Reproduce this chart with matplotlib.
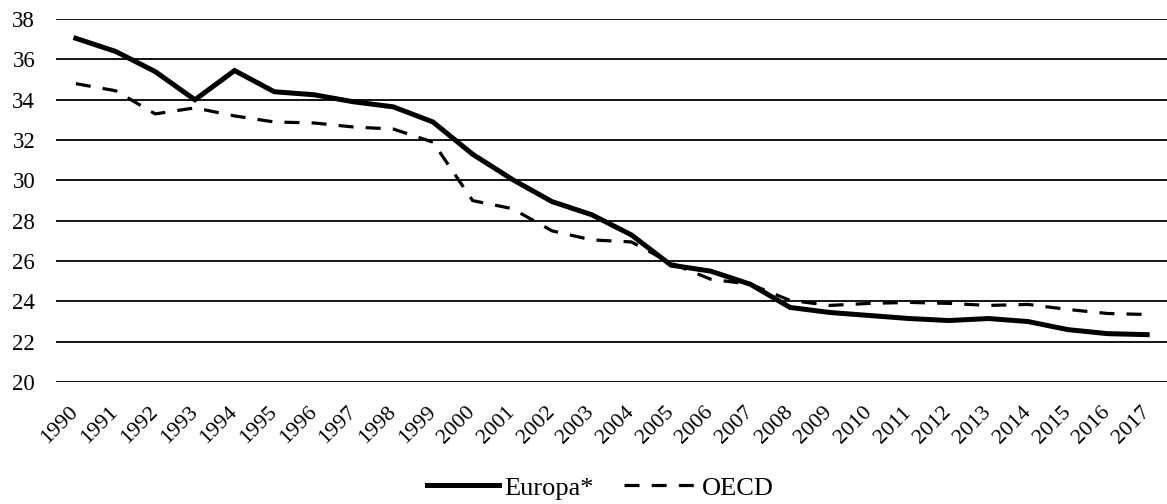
import matplotlib.pyplot as plt

plt.rcParams["font.family"] = ["Liberation Serif", "DejaVu Serif"]

years = [str(y) for y in range(1990, 2018)]

europa = [37.05, 36.4, 35.4, 34.0, 35.45, 34.4, 34.25, 33.9, 33.65, 32.9,
          31.3, 30.05, 28.95, 28.3, 27.3, 25.8, 25.5, 24.85, 23.7, 23.45,
          23.3, 23.15, 23.05, 23.15, 23.0, 22.6, 22.4, 22.35]

oecd = [34.8, 34.45, 33.3, 33.6, 33.2, 32.9, 32.85, 32.65, 32.55, 31.9,
        29.0, 28.6, 27.5, 27.05, 26.95, 25.9, 25.1, 24.85, 24.05, 23.8,
        23.9, 23.95, 23.9, 23.8, 23.85, 23.6, 23.4, 23.35]

y_ticks = list(range(20, 40, 2))

fig = plt.figure(figsize=(11.67, 5.04), dpi=100)
ax = fig.add_axes([0.048, 0.242, 0.952, 0.720])

x = list(range(len(years)))

ax.plot(x, europa, color="black", linewidth=3.6, label="Europa*",
        solid_joinstyle="miter", zorder=3)
ax.plot(x, oecd, color="black", linewidth=2.3, linestyle=(0, (4.7, 3.8)),
        label="OECD", zorder=3)

ax.set_xlim(-0.5, len(years) - 0.5)
ax.set_ylim(20, 38)
ax.set_yticks(y_ticks)
ax.yaxis.grid(True, color="black", linewidth=1.3)
ax.set_axisbelow(True)

ax.set_xticks(x)
ax.set_xticklabels(years, rotation=45, ha="right", va="center",
                   rotation_mode="anchor", fontsize=16)
ax.tick_params(axis="y", labelsize=16.5, length=0, pad=15)
ax.tick_params(axis="x", length=0, pad=20)

for side in ["top", "right", "left", "bottom"]:
    ax.spines[side].set_visible(False)

ax.legend(loc="center", bbox_to_anchor=(0.49, -0.292), ncol=2,
          frameon=False, fontsize=19, handlelength=2.75, handletextpad=0.2,
          columnspacing=1.15)

plt.savefig("out.png", dpi=100, facecolor="white")
plt.close(fig)
